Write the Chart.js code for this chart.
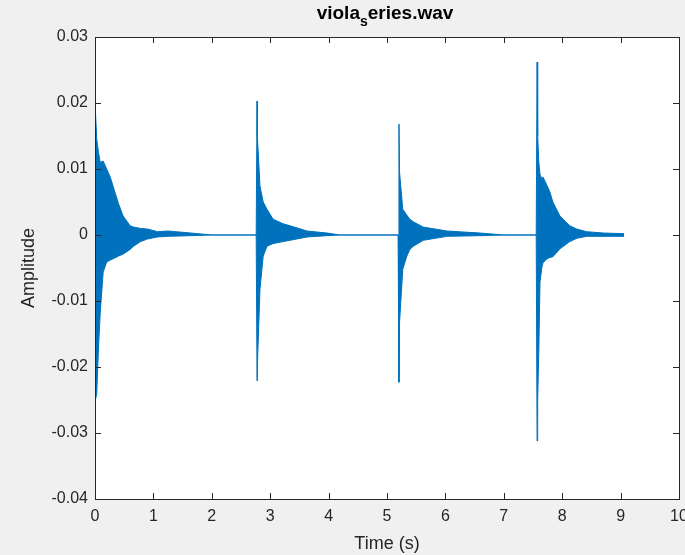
<!DOCTYPE html>
<html>
<head>
<meta charset="utf-8">
<script src="https://cdn.jsdelivr.net/npm/chart.js@4/dist/chart.umd.min.js"></script>
<style>
  html, body { margin: 0; padding: 0; background: #f0f0f0; }
  #wrap { position: relative; width: 685px; height: 555px; }
  #title {
    position: absolute; left: 0; top: 2px; width: 770px; text-align: center;
    font: bold 19px "Liberation Sans", Arial, sans-serif; color: #000;
  }
  #title sub { font-size: 14px; vertical-align: -7px; }
</style>
</head>
<body>
<div id="wrap">
  <canvas id="wave" width="685" height="555"></canvas>
  <div id="title">viola<sub>s</sub>eries.wav</div>
</div>
<script>
// envelope of the waveform (time in s, amplitude)
var times = [0.00, 0.03, 0.06, 0.09, 0.14, 0.20, 0.26, 0.31, 0.40, 0.48, 0.60, 0.66, 0.78, 0.90, 1.07, 1.25, 1.64, 2.00, 2.76,
             2.775, 2.78, 2.825, 2.88, 2.945, 3.05, 3.22, 3.34, 3.63, 3.97, 4.20, 5.19,
             5.205, 5.215, 5.27, 5.34, 5.39, 5.45, 5.62, 6.03, 6.59, 7.00, 7.555,
             7.57, 7.58, 7.60, 7.62, 7.65, 7.67, 7.74, 7.79, 7.84, 7.96, 8.13, 8.25, 8.42, 8.70, 9.06];
var upper = [0.0201, 0.0145, 0.0125, 0.0110, 0.0112, 0.0100, 0.0088, 0.0074, 0.0048, 0.0029, 0.0014, 0.0012, 0.0010, 0.0009, 0.0005, 0.0006, 0.0003, 0, 0,
             0.0203, 0.0150, 0.0074, 0.0050, 0.0039, 0.0024, 0.0017, 0.0014, 0.0006, 0.0003, 0, 0,
             0.0168, 0.0095, 0.0039, 0.0030, 0.0024, 0.0020, 0.0012, 0.0006, 0.0003, 0, 0,
             0.0262, 0.0150, 0.0110, 0.0092, 0.0085, 0.0088, 0.0075, 0.0065, 0.0050, 0.0029, 0.0014, 0.0009, 0.0005, 0.0003, 0.0002];
var lower = [-0.0253, -0.0240, -0.0170, -0.0117, -0.0056, -0.0041, -0.0038, -0.0036, -0.0032, -0.0029, -0.0022, -0.0017, -0.0010, -0.0006, -0.0003, -0.0002, -0.0001, 0, 0,
             -0.0221, -0.0198, -0.0082, -0.0032, -0.0017, -0.0013, -0.0010, -0.0008, -0.0003, -0.0001, 0, 0,
             -0.0223, -0.0132, -0.0052, -0.0032, -0.0022, -0.0017, -0.0008, -0.0002, -0.0001, 0, 0,
             -0.0312, -0.0248, -0.0173, -0.0071, -0.0050, -0.0042, -0.0036, -0.0034, -0.0033, -0.0021, -0.0010, -0.0005, -0.0002, -0.0002, -0.0002];

var xTicks = [0, 1, 2, 3, 4, 5, 6, 7, 8, 9, 10];
var yTicks = [-0.04, -0.03, -0.02, -0.01, 0, 0.01, 0.02, 0.03];

var lineBlue = '#0072BD';
var axisColor = '#262626';

function toPoints(xs, ys) {
    return xs.map(function (x, i) { return { x: x, y: ys[i] }; });
}

// MATLAB style box with inward ticks on all four sides
var matlabBox = {
    id: 'matlabBox',
    beforeDraw: function (chart) {
        var ctx = chart.ctx, a = chart.chartArea;
        ctx.save();
        ctx.fillStyle = '#f0f0f0';
        ctx.fillRect(0, 0, chart.width, chart.height);
        ctx.fillStyle = '#ffffff';
        ctx.fillRect(a.left, a.top, a.right - a.left, a.bottom - a.top);
        ctx.restore();
    },
    afterDraw: function (chart) {
        var ctx = chart.ctx, a = chart.chartArea;
        var xs = chart.scales.x, ys = chart.scales.y, len = 6;
        ctx.save();
        ctx.strokeStyle = axisColor;
        ctx.lineWidth = 1;
        ctx.beginPath();
        xTicks.forEach(function (v) {
            var px = Math.round(xs.getPixelForValue(v)) + 0.5;
            ctx.moveTo(px, a.bottom); ctx.lineTo(px, a.bottom - len);
            ctx.moveTo(px, a.top); ctx.lineTo(px, a.top + len);
        });
        yTicks.forEach(function (v) {
            var py = Math.round(ys.getPixelForValue(v)) + 0.5;
            ctx.moveTo(a.left, py); ctx.lineTo(a.left + len, py);
            ctx.moveTo(a.right, py); ctx.lineTo(a.right - len, py);
        });
        ctx.stroke();
        ctx.strokeRect(Math.round(a.left) + 0.5, Math.round(a.top) + 0.5,
                       Math.round(a.right - a.left), Math.round(a.bottom - a.top));
        ctx.restore();
    }
};

var tickFont = { family: '"Liberation Sans", Arial, sans-serif', size: 16 };
var labelFont = { family: '"Liberation Sans", Arial, sans-serif', size: 18, lineHeight: 1.2 };

new Chart(document.getElementById('wave'), {
    type: 'line',
    data: {
        datasets: [{
            label: 'upper',
            data: toPoints(times, upper),
            borderColor: lineBlue,
            backgroundColor: lineBlue,
            borderWidth: 1,
            pointRadius: 0,
            tension: 0,
            fill: '+1'
        }, {
            label: 'lower',
            data: toPoints(times, lower),
            borderColor: lineBlue,
            backgroundColor: lineBlue,
            borderWidth: 1,
            pointRadius: 0,
            tension: 0,
            fill: false
        }]
    },
    options: {
        responsive: false,
        animation: false,
        devicePixelRatio: 1,
        layout: { padding: { left: 0, right: 6, top: 37, bottom: 0 } },
        plugins: { legend: { display: false }, tooltip: { enabled: false } },
        scales: {
            x: {
                type: 'linear',
                min: 0, max: 10,
                afterBuildTicks: function (s) { s.ticks = xTicks.map(function (v) { return { value: v }; }); },
                afterFit: function (s) { s.height = 56; s.paddingLeft = 0; s.paddingRight = 0; },
                grid: { display: false, drawTicks: false },
                border: { display: false },
                ticks: { color: axisColor, font: tickFont, padding: 8, maxRotation: 0, autoSkip: false },
                title: { display: true, text: 'Time (s)', color: axisColor, font: labelFont, padding: 0 }
            },
            y: {
                min: -0.04, max: 0.03,
                afterBuildTicks: function (s) { s.ticks = yTicks.map(function (v) { return { value: v }; }); },
                afterFit: function (s) { s.width = 95; s.paddingTop = 0; s.paddingBottom = 0; },
                grid: { display: false, drawTicks: false },
                border: { display: false },
                ticks: {
                    color: axisColor, font: tickFont, padding: 7, autoSkip: false,
                    callback: function (v) { return String(Math.round(v * 100) / 100); }
                },
                title: { display: true, text: 'Amplitude', color: axisColor, font: labelFont, padding: { top: 18 } }
            }
        }
    },
    plugins: [matlabBox]
});
</script>
</body>
</html>
